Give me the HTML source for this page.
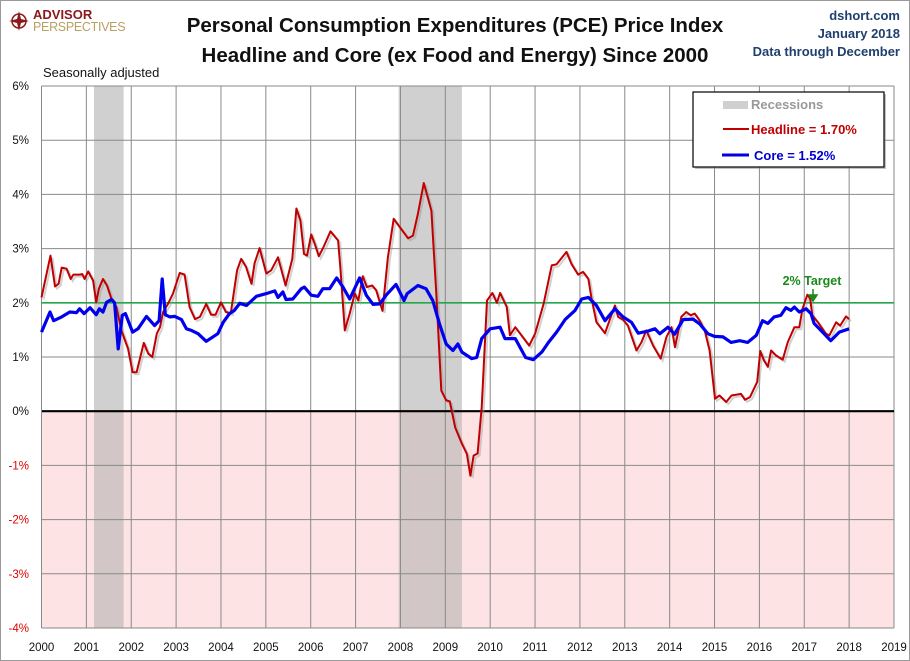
<!DOCTYPE html>
<html><head><meta charset="utf-8"><style>
body{margin:0;background:#fff;}
svg{display:block;font-family:"Liberation Sans",sans-serif;}
</style></head><body>
<svg id="chart" width="910" height="661" xmlns="http://www.w3.org/2000/svg">
<rect x="0.5" y="0.5" width="909" height="660" fill="#fff" stroke="#9a9a9a"/>
<g id="plot"></g>
<g>
 <circle cx="19" cy="21" r="7" fill="none" stroke="#8b1a1a" stroke-width="1.5"/>
 <path d="M19 11 L21 19 L29 21 L21 23 L19 31 L17 23 L9 21 L17 19 Z" fill="#8b1a1a"/>
 <text x="33" y="19" font-size="13" font-weight="bold" fill="#8b1a1a">ADVISOR</text>
 <text x="33" y="31" font-size="12.5" fill="#b8a060" letter-spacing="-0.3">PERSPECTIVES</text>
</g>
<text x="455" y="32" text-anchor="middle" font-size="20.5" font-weight="bold" fill="#111">Personal Consumption Expenditures (PCE) Price Index</text>
<text x="455" y="62" text-anchor="middle" font-size="20.5" font-weight="bold" fill="#111">Headline and Core (ex Food and Energy) Since 2000</text>
<text x="900" y="20" text-anchor="end" font-size="13" font-weight="bold" fill="#1f3f6f">dshort.com</text>
<text x="900" y="38" text-anchor="end" font-size="13" font-weight="bold" fill="#1f3f6f">January 2018</text>
<text x="900" y="56" text-anchor="end" font-size="13" font-weight="bold" fill="#1f3f6f">Data through December</text>
<text x="43" y="77" font-size="13" fill="#111">Seasonally adjusted</text>
<g>
 <rect x="695" y="94" width="191" height="75" fill="#888" opacity="0.5"/>
 <rect x="693" y="92" width="191" height="75" fill="#fff" stroke="#000" stroke-width="1.2"/>
 <rect x="723" y="101" width="25" height="8" fill="#cfcfcf"/>
 <text x="751" y="109" font-size="13" font-weight="bold" fill="#999">Recessions</text>
 <line x1="723" y1="129" x2="749" y2="129" stroke="#c00000" stroke-width="2"/>
 <text x="751" y="134" font-size="13" font-weight="bold" fill="#c00000">Headline = 1.70%</text>
 <line x1="722" y1="155" x2="749" y2="155" stroke="#0000e0" stroke-width="3"/>
 <text x="754" y="160" font-size="13" font-weight="bold" fill="#0000d0">Core = 1.52%</text>
</g>
</svg>
<script>
const yearTicks=[2000,2001,2002,2003,2004,2005,2006,2007,2008,2009,2010,2011,2012,2013,2014,2015,2016,2017,2018,2019];
const pctTicks=[6,5,4,3,2,1,0,-1,-2,-3,-4];
const recessionStarts=[2001.17,2007.96];
const recessionEnds=[2001.83,2009.37];
const targetValue=2;
const headlineDates=[2000.0,2000.2,2000.3,2000.38,2000.45,2000.56,2000.65,2000.71,2000.85,2000.91,2000.96,2001.04,2001.15,2001.22,2001.28,2001.37,2001.46,2001.56,2001.67,2001.78,2001.93,2002.03,2002.12,2002.28,2002.38,2002.47,2002.57,2002.64,2002.71,2002.82,2002.93,2003.08,2003.19,2003.3,2003.42,2003.53,2003.67,2003.78,2003.88,2004.0,2004.11,2004.22,2004.36,2004.45,2004.56,2004.68,2004.75,2004.86,2005.01,2005.12,2005.27,2005.44,2005.59,2005.68,2005.77,2005.85,2005.92,2006.01,2006.09,2006.18,2006.27,2006.44,2006.61,2006.66,2006.76,2006.87,2006.98,2007.06,2007.16,2007.25,2007.37,2007.46,2007.6,2007.72,2007.85,2007.98,2008.17,2008.28,2008.39,2008.52,2008.69,2008.8,2008.91,2009.02,2009.1,2009.22,2009.37,2009.48,2009.56,2009.63,2009.72,2009.81,2009.93,2010.05,2010.15,2010.22,2010.37,2010.44,2010.56,2010.87,2011.0,2011.19,2011.37,2011.48,2011.7,2011.81,2011.96,2012.07,2012.19,2012.26,2012.37,2012.56,2012.67,2012.78,2012.85,2012.96,2013.07,2013.26,2013.37,2013.48,2013.63,2013.8,2013.93,2014.04,2014.12,2014.26,2014.37,2014.47,2014.56,2014.67,2014.78,2014.89,2015.01,2015.11,2015.26,2015.38,2015.59,2015.68,2015.79,2015.95,2016.02,2016.1,2016.19,2016.26,2016.37,2016.52,2016.63,2016.78,2016.89,2016.96,2017.07,2017.13,2017.18,2017.33,2017.48,2017.56,2017.71,2017.8,2017.93,2018.0];
const headlineValues=[2.1,2.87,2.3,2.35,2.65,2.63,2.44,2.52,2.52,2.53,2.44,2.58,2.41,2.01,2.26,2.44,2.32,2.07,1.92,1.49,1.15,0.72,0.72,1.26,1.06,1.0,1.43,1.55,1.83,1.98,2.17,2.55,2.52,1.92,1.7,1.74,1.98,1.78,1.78,2.01,1.83,1.81,2.6,2.81,2.66,2.35,2.73,3.01,2.54,2.6,2.84,2.32,2.81,3.74,3.52,2.9,2.87,3.26,3.09,2.86,3.0,3.32,3.15,2.66,1.49,1.8,2.17,2.04,2.49,2.29,2.32,2.23,1.85,2.84,3.55,3.4,3.19,3.24,3.64,4.21,3.7,2.17,0.38,0.2,0.18,-0.3,-0.6,-0.79,-1.19,-0.82,-0.78,0.07,2.04,2.18,2.0,2.18,1.92,1.4,1.55,1.21,1.43,1.98,2.69,2.71,2.94,2.72,2.52,2.57,2.44,2.07,1.64,1.44,1.7,1.95,1.74,1.69,1.58,1.12,1.27,1.49,1.21,0.97,1.37,1.55,1.18,1.74,1.83,1.77,1.8,1.67,1.49,1.12,0.23,0.29,0.17,0.29,0.32,0.21,0.26,0.54,1.11,0.94,0.82,1.12,1.03,0.95,1.27,1.55,1.55,1.89,2.15,2.08,1.77,1.61,1.43,1.4,1.64,1.58,1.75,1.7];
const coreDates=[2000.0,2000.19,2000.27,2000.45,2000.63,2000.78,2000.85,2000.95,2001.08,2001.22,2001.29,2001.37,2001.45,2001.56,2001.63,2001.71,2001.8,2001.87,2002.03,2002.15,2002.34,2002.52,2002.62,2002.69,2002.76,2002.86,2002.97,2003.12,2003.23,2003.34,2003.49,2003.67,2003.82,2003.93,2004.05,2004.19,2004.3,2004.42,2004.57,2004.79,2005.01,2005.2,2005.27,2005.38,2005.45,2005.6,2005.79,2005.86,2006.01,2006.16,2006.27,2006.42,2006.58,2006.72,2006.87,2007.09,2007.24,2007.39,2007.54,2007.68,2007.9,2008.08,2008.15,2008.39,2008.57,2008.72,2008.87,2009.02,2009.17,2009.28,2009.37,2009.59,2009.7,2009.81,2010.0,2010.22,2010.33,2010.56,2010.79,2010.96,2011.15,2011.3,2011.48,2011.67,2011.89,2012.04,2012.19,2012.37,2012.56,2012.78,2012.96,2013.15,2013.3,2013.52,2013.67,2013.78,2013.96,2014.11,2014.3,2014.52,2014.67,2014.85,2015.0,2015.19,2015.37,2015.56,2015.74,2015.93,2016.07,2016.19,2016.33,2016.48,2016.59,2016.7,2016.78,2016.89,2017.04,2017.15,2017.22,2017.37,2017.59,2017.78,2018.0];
const coreValues=[1.46,1.83,1.67,1.74,1.83,1.82,1.89,1.8,1.91,1.78,1.89,1.83,2.01,2.06,2.0,1.15,1.77,1.8,1.46,1.52,1.75,1.58,1.67,2.44,1.78,1.74,1.75,1.69,1.52,1.49,1.43,1.29,1.37,1.43,1.64,1.8,1.86,1.99,1.95,2.12,2.17,2.22,2.1,2.2,2.06,2.07,2.26,2.29,2.14,2.12,2.26,2.26,2.46,2.29,2.07,2.46,2.14,1.97,1.98,2.14,2.34,2.04,2.17,2.32,2.26,2.04,1.61,1.24,1.12,1.24,1.09,0.97,0.99,1.34,1.52,1.55,1.34,1.34,0.99,0.95,1.09,1.27,1.46,1.69,1.86,2.07,2.1,1.95,1.67,1.89,1.74,1.64,1.44,1.48,1.52,1.43,1.55,1.42,1.69,1.7,1.61,1.43,1.38,1.37,1.27,1.3,1.27,1.4,1.67,1.62,1.74,1.77,1.91,1.86,1.92,1.83,1.89,1.8,1.62,1.49,1.3,1.46,1.52];

const NS='http://www.w3.org/2000/svg';
const X0=41.5,X1=894,YT=86,YB=628,YMAX=6,YMIN=-4;
function xs(t){return X0+(t-2000)*(X1-X0)/19;}
function ys(v){return YT+(YMAX-v)*(YB-YT)/(YMAX-YMIN);}
const plot=document.getElementById('plot');
function mk(tag,attrs,parent){const e=document.createElementNS(NS,tag);for(const k in attrs)e.setAttribute(k,attrs[k]);(parent||plot).appendChild(e);return e;}

let bg=mk('rect',{x:X0,y:YT,width:X1-X0,height:ys(0)-YT,fill:'#fff'});


let neg=mk('rect',{x:X0,y:ys(0),width:X1-X0,height:YB-ys(0),fill:'#fde3e3'});


for(let i=0;i<recessionStarts.length;i++){
  const r=mk('rect',{x:xs(recessionStarts[i]),y:YT,width:xs(recessionEnds[i])-xs(recessionStarts[i]),height:ys(0)-YT,fill:'#d0d0d0'});
  
  
  const r2=mk('rect',{x:xs(recessionStarts[i]),y:ys(0),width:xs(recessionEnds[i])-xs(recessionStarts[i]),height:YB-ys(0),fill:'#d2c6c6'});
  
  
}
for(const t of yearTicks){
  const l=mk('line',{x1:xs(t),x2:xs(t),y1:YT,y2:YB,stroke:'#8a8a8a','stroke-width':1});
  
  
  const tx=mk('text',{x:xs(t),y:651,'text-anchor':'middle','font-size':11.5,fill:'#111'});
  tx.textContent=t;
  
  
}
for(const v of pctTicks){
  const l=mk('line',{x1:X0,x2:X1,y1:ys(v),y2:ys(v),stroke:v===0?'#000':'#8a8a8a','stroke-width':v===0?2.2:1});
  
  
  const tx=mk('text',{x:29,y:ys(v)+4,'text-anchor':'end','font-size':11.5,fill:v<0?'#e00000':'#111'});
  tx.textContent=v+'%';
  
  
}
mk('line',{x1:X0,x2:X0,y1:YT,y2:YB,stroke:'#8a8a8a'});
let tl=mk('line',{x1:X0,x2:X1,y1:ys(targetValue),y2:ys(targetValue),stroke:'#22a84a','stroke-width':1.6});


function path(d,v){return d.map((t,i)=>(i?'L':'M')+xs(t).toFixed(1)+' '+ys(v[i]).toFixed(1)).join(' ');}
let hs=mk('path',{d:path(headlineDates,headlineValues),fill:'none',stroke:'#999',opacity:0.45,'stroke-width':2,transform:'translate(2,2)'});


let hl=mk('path',{d:path(headlineDates,headlineValues),fill:'none',stroke:'#c00000','stroke-width':2,'stroke-linejoin':'round'});


let cl=mk('path',{d:path(coreDates,coreValues),fill:'none',stroke:'#0000ee','stroke-width':3.2,'stroke-linejoin':'round'});


let tt=mk('text',{x:812,y:285,'text-anchor':'middle','font-size':12.5,'font-weight':'bold',fill:'#1a8a1a'});
tt.textContent='2% Target';


let ar=mk('path',{d:'M813 289 L813 296 M809 295 L813 301 L817 295 Z',stroke:'#1a8a1a',fill:'#1a8a1a','stroke-width':1.5});


</script>
</body></html>
